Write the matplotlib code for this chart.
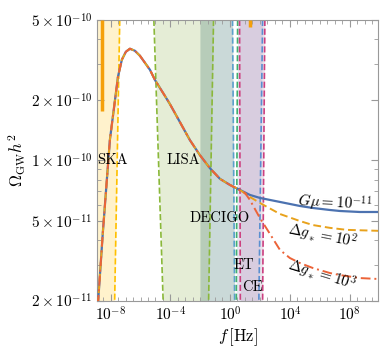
import numpy as np
import matplotlib
matplotlib.use("Agg")
import matplotlib.pyplot as plt
from matplotlib.ticker import FixedLocator, NullFormatter, LogLocator

plt.rcParams['font.family'] = 'serif'
plt.rcParams['font.serif'] = ['cmr10', 'DejaVu Serif']
plt.rcParams['mathtext.fontset'] = 'cm'
plt.rcParams['axes.formatter.use_mathtext'] = True

# --- data (log10 f [Hz], log10 Omega h^2) ---
# common part of the three spectra
logf_common = [-8.85, -8.52, -8.05, -7.51, -7.25, -6.98, -6.71, -6.38, -6.04,
               -5.37, -5.04, -4.37, -4.04, -3.37, -2.70, -2.03, -1.36, -0.69,
               -0.03, 0.64]
logom_common = [-10.72, -10.36, -9.90, -9.585, -9.50, -9.46, -9.445, -9.455, -9.48,
                -9.55, -9.60, -9.68, -9.72, -9.81, -9.90, -9.975, -10.04, -10.093,
                -10.123, -10.148]

# G mu = 1e-11, standard
logf_std = [1.31, 1.98, 3.32, 4.65, 5.52, 6.66, 7.33, 8.66, 10.0]
logom_std = [-10.173, -10.188, -10.208, -10.228, -10.238, -10.248, -10.253, -10.258, -10.258]

# Delta g_* = 1e2
logf_g2 = [1.31, 1.98, 3.32, 4.65, 5.52, 6.66, 7.79, 10.0]
logom_g2 = [-10.183, -10.213, -10.268, -10.303, -10.323, -10.337, -10.347, -10.352]

# Delta g_* = 1e3
logf_g3 = [0.98, 1.31, 1.98, 2.65, 3.32, 3.98, 4.65, 5.52, 6.66, 7.33, 8.66, 10.0]
logom_g3 = [-10.163, -10.198, -10.288, -10.367, -10.447, -10.487, -10.512, -10.537,
            -10.562, -10.572, -10.587, -10.592]

# detector regions: edges as (log f at top, log f at bottom)
detectors = ['SKA', 'LISA', 'DECIGO', 'ET', 'CE']
left_edge = [(-8.88, -8.88), (-5.11, -4.49), (-2.03, -2.03), (0.49, 0.40), (0.62, 0.67)]
right_edge = [(-7.39, -7.73), (-1.12, -1.45), (0.15, 0.29), (2.16, 1.91), (2.31, 2.16)]
fill_cols = ['#ffc000', '#7fa832', '#2f6a66', '#7a6aa8', '#8a5a90']
fill_alpha = [0.2, 0.2, 0.25, 0.17, 0.17]
left_cols = ['#ffc000', '#8ab83a', None, '#40b070', '#cc4080']
right_cols = ['#ffc000', '#8ab83a', '#5aa0cc', '#5a8fd0', '#cc4080']

# spikes seen in the upper part of the plot
spike_logf = [-8.55, 1.3]
spike_top = [5e-10, 5e-10]
spike_bot = [1.75e-10, 4.6e-10]

ymin, ymax = 2e-11, 5e-10

fig = plt.figure(figsize=(3.81, 3.54), dpi=100)
ax = fig.add_axes([0.255, 0.151, 0.737, 0.793])

for i in range(len(detectors)):
    xl = [10**left_edge[i][0], 10**left_edge[i][1]]
    xr = [10**right_edge[i][0], 10**right_edge[i][1]]
    yy = [ymax, ymin]
    ax.fill_betweenx(yy, xl, xr, color=fill_cols[i], alpha=fill_alpha[i], lw=0, zorder=1)
    if left_cols[i] is not None:
        ax.plot(xl, yy, ls='--', color=left_cols[i], lw=1.2, zorder=2)
    ax.plot(xr, yy, ls='--', color=right_cols[i], lw=1.2, zorder=2)

for i in range(len(spike_logf)):
    ax.plot([10**spike_logf[i]] * 2, [spike_top[i], spike_bot[i]], color='#f5a00a', lw=2.5,
            zorder=3, solid_capstyle='butt')

f_std = 10**np.array(logf_common + logf_std)
om_std = 10**np.array(logom_common + logom_std)
f_g2 = 10**np.array(logf_common + logf_g2)
om_g2 = 10**np.array(logom_common + logom_g2)
f_g3 = 10**np.array(logf_common[:-1] + logf_g3)
om_g3 = 10**np.array(logom_common[:-1] + logom_g3)

ax.plot(f_std, om_std, color='#4c72b0', lw=1.6, zorder=4)
ax.plot(f_g2, om_g2, color='#e8a21c', lw=1.4, ls=(0, (4, 2)), zorder=5)
ax.plot(f_g3, om_g3, color='#ec6338', lw=1.4, ls=(0, (5, 2, 1, 2)), zorder=6)

fs = 10.5
ax.text(10**-7.9, 1.0e-10, 'SKA', fontsize=fs, ha='center', va='center', zorder=7)
ax.text(10**-3.16, 1.0e-10, 'LISA', fontsize=fs, ha='center', va='center', zorder=7)
ax.text(10**-0.73, 10**-10.288, 'DECIGO', fontsize=fs, ha='center', va='center', zorder=7)
ax.text(10**0.91, 10**-10.522, 'ET', fontsize=fs, ha='center', va='center', zorder=7)
ax.text(10**1.48, 10**-10.631, 'CE', fontsize=fs, ha='center', va='center', zorder=7)
ax.text(10**6.99, 10**-10.213, r'$G\mu = 10^{-11}$', fontsize=fs + 0.5, ha='center',
        va='center', rotation=-3, zorder=7)
ax.text(10**6.13, 10**-10.377, r'$\Delta g_* = 10^{2}$', fontsize=fs + 0.5, ha='center',
        va='center', rotation=-11, zorder=7)
ax.text(10**6.13, 10**-10.571, r'$\Delta g_* = 10^{3}$', fontsize=fs + 0.5, ha='center',
        va='center', rotation=-17, zorder=7)

ax.set_xscale('log')
ax.set_yscale('log')
ax.set_xlim(10**-8.9, 10**9.87)
ax.set_ylim(ymin, ymax)

ax.xaxis.set_major_locator(FixedLocator([1e-8, 1e-4, 1e0, 1e4, 1e8]))
ax.xaxis.set_minor_locator(LogLocator(base=10, subs=(1.0, 3.0), numticks=100))
ax.xaxis.set_minor_formatter(NullFormatter())
ax.set_xticklabels([r'$10^{-8}$', r'$10^{-4}$', r'$10^{0}$', r'$10^{4}$', r'$10^{8}$'])

yt = [2e-11, 5e-11, 1e-10, 2e-10, 5e-10]
ax.yaxis.set_major_locator(FixedLocator(yt))
ax.set_yticklabels([r'$2\times10^{-11}$', r'$5\times10^{-11}$', r'$1\times10^{-10}$',
                    r'$2\times10^{-10}$', r'$5\times10^{-10}$'])
ax.yaxis.set_minor_locator(LogLocator(base=10, subs=np.arange(2, 10), numticks=100))
ax.yaxis.set_minor_formatter(NullFormatter())

ax.tick_params(which='both', direction='in', top=True, right=True, labelsize=11,
               color='#999999')
ax.tick_params(which='major', length=5, width=0.8)
ax.tick_params(which='minor', length=3, width=0.6)
for s in ax.spines.values():
    s.set_color('#999999')
    s.set_linewidth(0.8)

ax.set_xlabel(r'$f\,[\mathrm{Hz}]$', fontsize=12, labelpad=2)
ax.set_ylabel(r'$\Omega_{\mathrm{GW}}h^2$', fontsize=12, labelpad=2)

fig.savefig('out.png', dpi=100)
